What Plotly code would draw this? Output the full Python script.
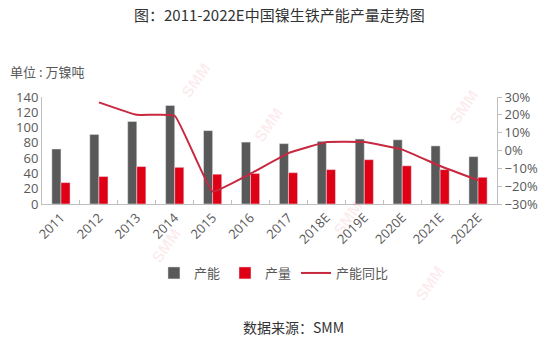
import plotly.graph_objects as go

years = ["2011", "2012", "2013", "2014", "2015", "2016", "2017",
         "2018E", "2019E", "2020E", "2021E", "2022E"]
capacity = [72, 91, 108, 129, 96, 81, 79, 82, 85, 84, 76, 62]      # 产能, 万镍吨
output = [28, 36, 49, 48, 39, 40, 41, 45, 58, 50, 45, 35]          # 产量, 万镍吨
capacity_yoy = [None, 27, 20, 19.5, -23, -13, -1.5, 4.7, 4.7, 0.5, -8.7, -16.7]  # 产能同比, %

FONT = "Noto Sans CJK SC, Noto Sans, sans-serif"
NUM_FONT = "Open Sans, Noto Sans, sans-serif"
GREY = "#595959"

W, H = 550, 341
ML, MR, MT, MB = 42, 49, 97, 137
PW, PH = W - ML - MR, H - MT - MB


def px(x):
    """Pixel column -> paper x (paper spans the plot area)."""
    return (x - ML) / PW


def py(y):
    """Pixel row from top -> paper y."""
    return (H - MB - y) / PH


fig = go.Figure()
fig.add_trace(go.Bar(x=years, y=capacity, name="产能", marker_color="#595959"))
fig.add_trace(go.Bar(x=years, y=output, name="产量", marker_color="#df0015"))
fig.add_trace(go.Scatter(x=years, y=capacity_yoy, name="产能同比", yaxis="y2",
                         mode="lines", line=dict(color="#c8283f", width=2,
                                                 shape="spline", smoothing=0.3)))

# faint diagonal SMM watermarks
marks = [(197, 80), (270, 125), (467, 107), (167, 245), (350, 218), (433, 283)]
for mx, my in marks:
    fig.add_annotation(x=px(mx), y=py(my), xref="paper", yref="paper",
                       xanchor="center", yanchor="middle",
                       text="<b>SMM</b>", showarrow=False, textangle=-55,
                       font=dict(family="Arial", size=16, color="rgba(225,60,80,0.10)"))

fig.add_annotation(x=px(282), y=py(15), xref="paper", yref="paper",
                   xanchor="center", yanchor="middle",
                   text="图：2011-2022E中国镍生铁产能产量走势图", showarrow=False,
                   font=dict(family=FONT, size=15, color="#333333"))
fig.add_annotation(x=px(8), y=py(71), xref="paper", yref="paper",
                   xanchor="left", yanchor="middle", text="单位 : 万镍吨", showarrow=False,
                   font=dict(family=FONT, size=13, color=GREY))
fig.add_annotation(x=px(296), y=py(327), xref="paper", yref="paper",
                   xanchor="center", yanchor="middle",
                   text="数据来源：SMM", showarrow=False,
                   font=dict(family=FONT, size=14, color="#333333"))

fig.update_layout(
    width=W, height=H,
    margin=dict(l=ML, r=MR, t=MT, b=MB),
    paper_bgcolor="white", plot_bgcolor="white",
    font=dict(family=FONT, color=GREY),
    barmode="group", bargap=0.52, bargroupgap=0,
    showlegend=True,
    legend=dict(orientation="h", x=px(276), xanchor="center",
                y=py(273), yanchor="middle",
                font=dict(family=FONT, size=13, color=GREY),
                itemwidth=30, traceorder="normal"),
    xaxis=dict(tickangle=-45, tickfont=dict(family=NUM_FONT, size=13, color=GREY),
               showline=True, linecolor="#bfbfbf", linewidth=1,
               ticks="inside", tickson="boundaries", ticklen=4, tickcolor="#bfbfbf",
               showgrid=False),
    yaxis=dict(range=[0, 140], dtick=20, tickfont=dict(family=NUM_FONT, size=13, color=GREY),
               showline=True, linecolor="#bfbfbf", linewidth=1,
               showgrid=False, zeroline=False, ticks=""),
    yaxis2=dict(range=[-30, 30], dtick=10, overlaying="y", side="right",
                ticksuffix="%", tickfont=dict(family=NUM_FONT, size=13, color=GREY),
                showline=True, linecolor="#bfbfbf", linewidth=1,
                ticks="outside", ticklen=4, tickcolor="#bfbfbf",
                showgrid=False, zeroline=False),
)

fig.write_html("out.html")
